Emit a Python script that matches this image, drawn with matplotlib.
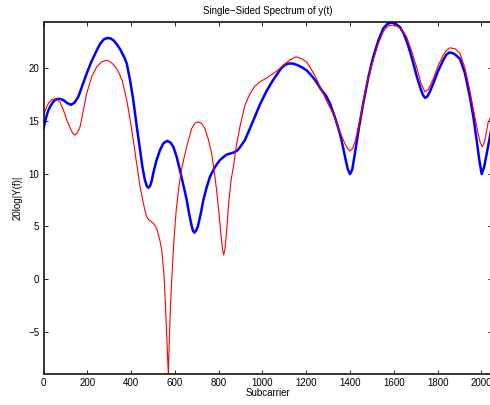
import matplotlib
matplotlib.use("Agg")
import matplotlib.pyplot as plt

blue_x = [0, 10, 20, 30, 45, 60, 75, 91, 108, 126, 142, 159, 178, 197, 220, 243, 258, 275, 291,
          305, 320, 334, 350, 360, 370, 380, 395, 410, 425, 441, 452, 463, 472, 480, 488, 495, 501,
          515, 532, 548, 565, 580, 593, 608, 623, 640, 654, 665, 675, 682, 689, 697, 705, 718, 730,
          745, 760, 782, 806, 835, 867, 885, 897, 920, 943, 965, 989, 1020, 1049, 1085, 1105, 1122,
          1140, 1160, 1180, 1202, 1220, 1240, 1270, 1290, 1308, 1330, 1354, 1368, 1380, 1390, 1400,
          1410, 1422, 1440, 1460, 1483, 1506, 1530, 1552, 1570, 1590, 1610, 1628, 1645, 1660, 1675,
          1689, 1705, 1720, 1732, 1742, 1752, 1765, 1780, 1803, 1826, 1840, 1853, 1868, 1880, 1902,
          1925, 1947, 1963, 1978, 1990, 2001, 2012, 2024, 2036, 2047]
blue_y = [14.3, 15.2, 15.9, 16.35, 16.85, 17.08, 17.1, 16.98, 16.7, 16.54, 16.75, 17.3, 18.4, 19.5,
          20.7, 21.7, 22.3, 22.75, 22.87, 22.85, 22.65, 22.3, 21.8, 21.4, 21.0, 20.46, 18.9, 16.98,
          14.6, 12.24, 10.6, 9.4, 8.8, 8.66, 8.9, 9.4, 10.03, 11.2, 12.24, 12.9, 13.12, 12.95, 12.55,
          11.6, 10.34, 8.8, 7.5, 6.2, 5.2, 4.6, 4.4, 4.6, 5.0, 6.2, 7.5, 8.7, 9.7, 10.6, 11.3, 11.8,
          12.0, 12.2, 12.5, 13.2, 14.3, 15.4, 16.6, 17.9, 18.9, 20.0, 20.35, 20.46, 20.45, 20.3,
          20.1, 19.8, 19.4, 18.9, 17.93, 17.4, 16.67, 15.4, 13.8, 12.5, 11.3, 10.4, 9.96, 10.4,
          11.9, 14.3, 16.67, 19.1, 21.1, 22.7, 23.8, 24.2, 24.35, 24.2, 23.9, 23.3, 22.5, 21.5,
          20.46, 19.2, 18.2, 17.5, 17.2, 17.3, 17.8, 18.57, 19.8, 20.8, 21.3, 21.5, 21.45, 21.3,
          20.9, 19.5, 17.3, 15.4, 13.2, 11.3, 9.96, 10.6, 11.9, 13.2, 14.5]

red_x = [0, 10, 22, 36, 51, 63, 75, 91, 108, 126, 135, 144, 155, 167, 180, 197, 220, 243, 265, 285,
         300, 315, 334, 348, 360, 380, 395, 410, 425, 441, 453, 462, 471, 482, 494, 505, 517, 530,
         540, 550, 557, 563, 570, 575, 580, 587, 595, 605, 617, 632, 654, 677, 692, 707, 722, 737,
         752, 768, 780, 790, 800, 810, 817, 823, 829, 836, 846, 856, 867, 882, 897, 920, 943, 965,
         989, 1020, 1049, 1075, 1095, 1125, 1153, 1175, 1202, 1220, 1240, 1270, 1295, 1323, 1345,
         1369, 1385, 1400, 1412, 1425, 1445, 1475, 1506, 1530, 1552, 1572, 1594, 1612, 1630, 1658,
         1680, 1704, 1725, 1742, 1758, 1780, 1803, 1826, 1840, 1856, 1880, 1902, 1925, 1947, 1968,
         1985, 1995, 2004, 2015, 2031, 2047]
red_y = [15.56, 16.1, 16.67, 17.0, 17.1, 17.0, 16.8, 16.03, 15.0, 14.14, 13.8, 13.66, 13.9, 14.45,
         15.8, 17.6, 19.2, 20.14, 20.6, 20.75, 20.68, 20.45, 20.0, 19.4, 18.8, 17.0, 15.2, 13.2,
         11.0, 8.76, 7.5, 6.6, 5.9, 5.6, 5.44, 5.2, 4.8, 3.8, 2.75, 0.5, -2.5, -5.5, -9.04, -5.5,
         -2.5, 0.5, 3.5, 6.3, 8.6, 10.6, 12.6, 14.3, 14.8, 14.93, 14.75, 14.3, 13.3, 11.9, 10.2,
         8.5, 6.5, 4.3, 2.9, 2.28, 2.9, 4.5, 7.3, 9.3, 10.65, 12.8, 14.45, 16.5, 17.6, 18.3, 18.72,
         19.1, 19.5, 19.9, 20.3, 20.8, 21.09, 20.95, 20.6, 20.0, 19.3, 17.93, 16.8, 15.7, 14.4,
         13.2, 12.5, 12.14, 12.4, 13.2, 15.1, 18.5, 20.8, 22.4, 23.5, 24.0, 24.1, 24.0, 23.8, 23.0,
         21.7, 20.1, 18.5, 17.77, 18.0, 19.0, 20.3, 21.25, 21.7, 21.95, 21.85, 21.4, 20.0, 17.9,
         15.6, 13.8, 12.9, 12.55, 13.1, 14.9, 15.6]

x_ticks = [0, 200, 400, 600, 800, 1000, 1200, 1400, 1600, 1800, 2000]
y_ticks = [-5, 0, 5, 10, 15, 20]

plt.rcParams['font.family'] = ['Liberation Sans', 'DejaVu Sans']
plt.rcParams['font.size'] = 7

fig = plt.figure(figsize=(4.9, 4.05), dpi=100)
ax = fig.add_axes([0.0888, 0.0758, 0.9152, 0.87])

ax.plot(blue_x, blue_y, color=(0, 0, 1), lw=1.8, solid_joinstyle='round')
ax.plot(red_x, red_y, color=(1, 0, 0), lw=0.8, solid_joinstyle='round')

ax.set_xlim(0, 2048)
ax.set_ylim(-9.04, 24.4)
ax.set_xticks(x_ticks)
ax.set_yticks(y_ticks)
ax.tick_params(direction='in', length=3, width=0.6, top=True, right=True, pad=3, labelsize=7)
for s in ax.spines.values():
    s.set_linewidth(1.1)

ax.set_title("Single\u2212Sided Spectrum of y(t)", fontsize=7, pad=6)
ax.set_xlabel("Subcarrier", fontsize=7, labelpad=0)
ax.set_ylabel("20log|Y(f)|", fontsize=7, labelpad=4)

fig.savefig("out.png", dpi=100)
